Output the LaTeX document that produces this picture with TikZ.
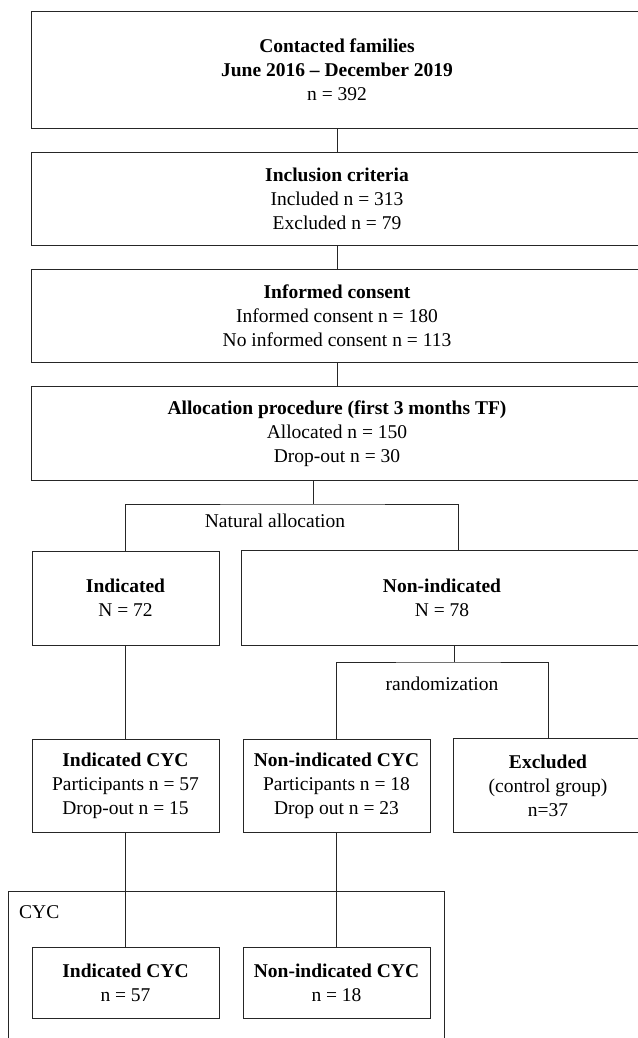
\documentclass[tikz,border=0pt]{standalone}
\usepackage{fontspec}
\setmainfont{Liberation Serif}
\begin{document}
\begin{tikzpicture}[x=1pt,y=-1pt,
  box/.style={draw=black!85, line width=0.8pt, inner sep=0pt, align=center,
    font=\fontsize{19.5}{24}\selectfont},
  wide/.style={inner sep=0pt, align=center, font=\fontsize{19.5}{24}\selectfont},
  lbl/.style={inner sep=0pt, font=\fontsize{19.5}{24}\selectfont},
  conn/.style={draw=black!85, line width=0.8pt}]
\useasboundingbox (0,0) rectangle (637,1038);
% main column (right edges run past the page, so only three sides are drawn)
\node[wide, minimum width=610pt, minimum height=116pt] (b1) at (337,70)
  {\textbf{Contacted families}\\\textbf{June 2016 – December 2019}\\n = 392};
\node[wide, minimum width=610pt, minimum height=92pt] (b2) at (337,199)
  {\textbf{Inclusion criteria}\\Included n = 313\\Excluded n = 79};
\node[wide, minimum width=610pt, minimum height=92pt] (b3) at (337,316)
  {\textbf{Informed consent}\\Informed consent n = 180\\No informed consent n = 113};
\node[wide, minimum width=610pt, minimum height=93pt] (b4) at (337,433.5)
  {\textbf{Allocation procedure (first 3 months TF)}\\Allocated n = 150\\Drop-out n = 30};
% second row
\node[box, minimum width=187pt, minimum height=94pt] (ind) at (125.5,598)
  {\textbf{Indicated}\\N = 72};
\node[wide, minimum width=400pt, minimum height=94pt] (nonind) at (442,598)
  {\textbf{Non-indicated}\\N = 78};
% third row
\node[box, minimum width=187pt, minimum height=93pt] (icyc) at (125.5,785.5)
  {\textbf{Indicated CYC}\\Participants n = 57\\Drop-out n = 15};
\node[box, minimum width=187pt, minimum height=93pt] (nicyc) at (336.5,785.5)
  {\textbf{Non-indicated CYC}\\Participants n = 18\\Drop out n = 23};
\node[wide, minimum width=188pt, minimum height=93pt] (exc) at (548,785.5)
  {\textbf{Excluded}\\(control group)\\n=37};
\foreach \n in {b1,b2,b3,b4,nonind,exc}
  \draw[conn] (\n.north east) -- (\n.north west) -- (\n.south west) -- (\n.south east);
% CYC container (open at the bottom of the page)
\node[box, minimum width=436pt, minimum height=170pt] (cyc) at (226,976) {};
\node[lbl, anchor=west] (cyclbl) at (19,912) {CYC};
% bottom row
\node[box, minimum width=187pt, minimum height=71pt] (icyc2) at (125.5,982.5)
  {\textbf{Indicated CYC}\\n = 57};
\node[box, minimum width=187pt, minimum height=71pt] (nicyc2) at (336.5,982.5)
  {\textbf{Non-indicated CYC}\\n = 18};
% labels
\node[lbl] (natlbl) at (275,521) {Natural allocation};
\node[lbl] (randlbl) at (442,684) {randomization};
% connectors
\draw[conn] (b1.south) -- (b2.north);
\draw[conn] (b2.south) -- (b3.north);
\draw[conn] (b3.south) -- (b4.north);
\coordinate (s1) at (313,504);
\coordinate (na) at (458,551);
\draw[conn] (b4.south -| s1) -- (s1);
\draw[conn] (ind.north) |- (s1) -| (na);
\coordinate (nb) at (454,645);
\coordinate (s2) at (454,662);
\draw[conn] (nb) -- (s2);
\draw[conn] (nicyc.north) |- (s2) -| (exc.north);
\draw[conn] (ind.south) -- (icyc.north);
\draw[conn] (icyc.south) -- (icyc2.north);
\draw[conn] (nicyc.south) -- (nicyc2.north);
\end{tikzpicture}
\end{document}
